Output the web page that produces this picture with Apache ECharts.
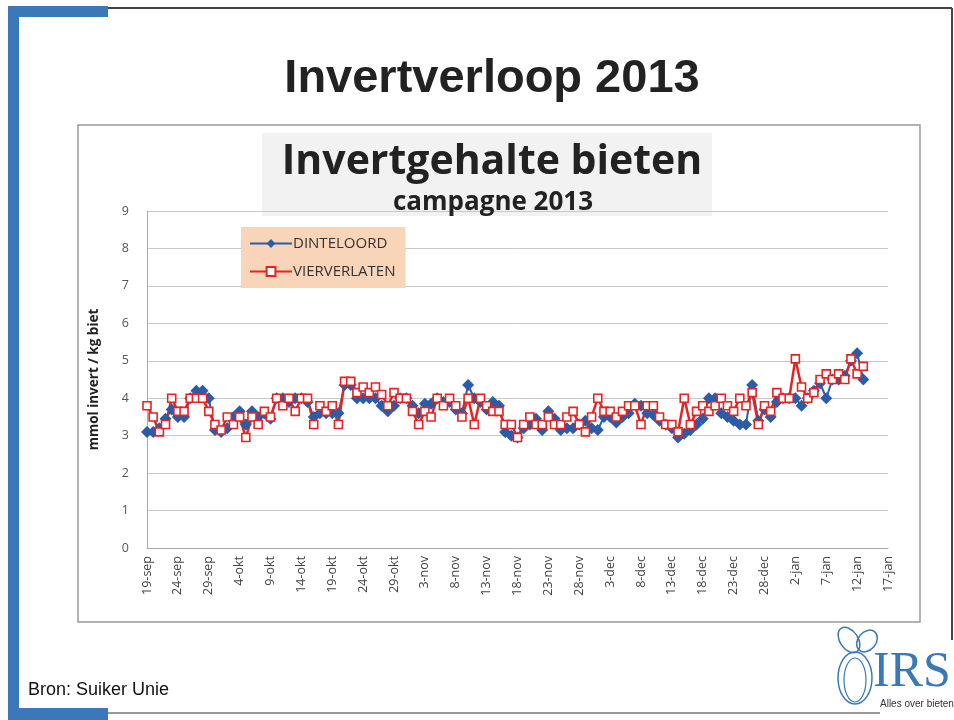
<!DOCTYPE html>
<html>
<head>
<meta charset="utf-8">
<script src="https://cdn.jsdelivr.net/npm/echarts@6/dist/echarts.min.js"></script>
<style>
  html, body { margin: 0; padding: 0; background: #fff; }
  #container { width: 954px; height: 720px; }
</style>
</head>
<body>
<div id="container"></div>
<script>
// daily values from 19-sep-2013
var startDate = [2013, 8, 19];
var dayCount = 121;
var monthNames = ['jan', 'feb', 'mrt', 'apr', 'mei', 'jun', 'jul', 'aug', 'sep', 'okt', 'nov', 'dec'];

var dinteloord = [
  3.1, 3.1, 3.2, 3.45, 3.7, 3.5, 3.5, 4.0, 4.2, 4.2,
  4.0, 3.15, 3.1, 3.2, 3.5, 3.65, 3.3, 3.65, 3.5, 3.6,
  3.45, 4.0, 4.0, 3.9, 4.0, 4.0, 3.9, 3.5, 3.6, 3.6,
  3.6, 3.6, 4.35, 4.35, 4.0, 4.0, 4.0, 4.0, 3.8, 3.65,
  3.8, 4.0, 4.0, 3.8, 3.6, 3.85, 3.85, 4.0, 3.9, 3.9,
  3.7, 3.6, 4.35, 4.0, 3.9, 3.7, 3.9, 3.8, 3.1, 3.0,
  2.95, 3.2, 3.3, 3.45, 3.15, 3.65, 3.45, 3.15, 3.2, 3.2,
  3.3, 3.4, 3.2, 3.15, 3.5, 3.5, 3.35, 3.5, 3.6, 3.85,
  3.8, 3.6, 3.55, 3.4, 3.3, 3.2, 2.95, 3.05, 3.15, 3.3,
  3.45, 4.0, 4.0, 3.6, 3.5, 3.4, 3.3, 3.3, 4.35, 3.4,
  3.7, 3.5, 3.9, 4.0, 4.0, 4.0, 3.8, 4.0, 4.2, 4.4,
  4.0, 4.5, 4.5, 4.6, 5.0, 5.2, 4.5
];

var vierverlaten = [
  3.8, 3.5, 3.1, 3.3, 4.0, 3.65, 3.65, 4.0, 4.0, 4.0,
  3.65, 3.3, 3.15, 3.5, 3.3, 3.5, 2.95, 3.5, 3.3, 3.65,
  3.5, 4.0, 3.8, 4.0, 3.65, 4.0, 4.0, 3.3, 3.8, 3.65,
  3.8, 3.3, 4.45, 4.45, 4.15, 4.3, 4.15, 4.3, 4.1, 3.8,
  4.15, 4.0, 4.0, 3.65, 3.3, 3.65, 3.5, 4.0, 3.8, 4.0,
  3.8, 3.5, 4.0, 3.3, 4.0, 3.8, 3.65, 3.65, 3.3, 3.3,
  2.95, 3.3, 3.5, 3.3, 3.3, 3.5, 3.3, 3.3, 3.5, 3.65,
  3.3, 3.1, 3.5, 4.0, 3.65, 3.65, 3.5, 3.65, 3.8, 3.8,
  3.3, 3.8, 3.8, 3.5, 3.3, 3.3, 3.1, 4.0, 3.3, 3.65,
  3.8, 3.65, 3.8, 4.0, 3.8, 3.65, 4.0, 3.8, 4.15, 3.3,
  3.8, 3.65, 4.15, 4.0, 4.0, 5.05, 4.3, 4.0, 4.15, 4.5,
  4.65, 4.5, 4.65, 4.5, 5.05, 4.65, 4.85
];

var dates = [];
for (var i = 0; i < dayCount; i++) {
  var d = new Date(Date.UTC(startDate[0], startDate[1], startDate[2] + i));
  dates.push(d.getUTCDate() + '-' + monthNames[d.getUTCMonth()]);
}

var blue = '#3a78b8';
var myChart = echarts.init(document.getElementById('container'));

option = {
  backgroundColor: '#fff',
  animation: false,
  title: [{
    text: 'Invertverloop 2013',
    left: 487, top: 51, textAlign: 'center',
    textStyle: { fontFamily: 'Liberation Sans', fontWeight: 'bold', fontSize: 47, color: '#222' }
  }, {
    text: 'Invertgehalte bieten',
    left: 487, top: 137, textAlign: 'center',
    textStyle: { fontFamily: 'Open Sans', fontWeight: 'bold', fontSize: 41, color: '#222' }
  }, {
    text: 'campagne 2013',
    left: 488, top: 185, textAlign: 'center',
    textStyle: { fontFamily: 'Open Sans', fontWeight: 'bold', fontSize: 26, color: '#222' }
  }],
  graphic: [
    // slide frame
    { type: 'rect', z: -10, shape: { x: 8, y: 6, width: 100, height: 11 }, style: { fill: blue } },
    { type: 'rect', z: -10, shape: { x: 8, y: 6, width: 11, height: 714 }, style: { fill: blue } },
    { type: 'rect', z: -10, shape: { x: 8, y: 708, width: 100, height: 12 }, style: { fill: blue } },
    { type: 'line', z: -10, shape: { x1: 108, y1: 8, x2: 952, y2: 8 }, style: { stroke: '#444', lineWidth: 2 } },
    { type: 'line', z: -10, shape: { x1: 952, y1: 8, x2: 952, y2: 640 }, style: { stroke: '#444', lineWidth: 2 } },
    { type: 'line', z: -10, shape: { x1: 108, y1: 713, x2: 880, y2: 713 }, style: { stroke: '#999', lineWidth: 2 } },
    // chart box
    { type: 'rect', z: -5, shape: { x: 78, y: 125, width: 842, height: 497 }, style: { fill: '#fff', stroke: '#9a9a9a', lineWidth: 1.5 } },
    { type: 'rect', z: -4, shape: { x: 262, y: 133, width: 450, height: 83 }, style: { fill: '#f2f2f2' } },
    // source
    { type: 'text', left: 28, top: 681, style: { text: 'Bron: Suiker Unie', font: '18px "Liberation Sans"', fill: '#111' } },
    // logo
    { type: 'ellipse', shape: { cx: 849, cy: 640, rx: 9, ry: 14 }, rotation: 0.6, originX: 849, originY: 640, style: { fill: 'none', stroke: blue, lineWidth: 1.5 } },
    { type: 'ellipse', shape: { cx: 867, cy: 641, rx: 9, ry: 12 }, rotation: -0.7, originX: 867, originY: 641, style: { fill: 'none', stroke: blue, lineWidth: 1.5 } },
    { type: 'ellipse', shape: { cx: 855, cy: 678, rx: 17, ry: 26 }, style: { fill: 'none', stroke: blue, lineWidth: 1.5 } },
    { type: 'ellipse', shape: { cx: 855, cy: 680, rx: 11, ry: 22 }, style: { fill: 'none', stroke: blue, lineWidth: 1.2 } },
    { type: 'text', left: 873, top: 648, style: { text: 'IRS', font: '50px "Liberation Serif"', fill: blue } },
    { type: 'text', left: 880, top: 699, style: { text: 'Alles over bieten', font: '10px "Liberation Sans Narrow", "Liberation Sans"', fill: '#333' } }
  ],
  legend: {
    left: 241, top: 227,
    orient: 'vertical',
    backgroundColor: '#f8d5b8',
    padding: [9, 10, 9, 8],
    itemGap: 13,
    itemWidth: 42, itemHeight: 11,
    textStyle: { fontFamily: 'Open Sans', fontSize: 15, color: '#333', padding: [0, 0, 0, -4] },
    data: ['DINTELOORD', 'VIERVERLATEN']
  },
  grid: { left: 147, right: 66, top: 211, bottom: 172 },
  xAxis: {
    type: 'category',
    data: dates,
    boundaryGap: false,
    axisLine: { lineStyle: { color: '#aaa' } },
    axisTick: { show: false },
    axisLabel: {
      interval: 4, rotate: 90, margin: 8,
      fontFamily: 'Open Sans', fontSize: 12.5, color: '#444'
    },
    splitLine: { show: false }
  },
  yAxis: {
    type: 'value',
    min: 0, max: 9, interval: 1,
    name: 'mmol invert / kg biet',
    nameLocation: 'middle', nameGap: 46, nameRotate: 90,
    nameTextStyle: { fontFamily: 'Open Sans', fontWeight: 'bold', fontSize: 13.5, color: '#222' },
    axisLine: { show: true, lineStyle: { color: '#aaa' } },
    axisTick: { show: false },
    axisLabel: { margin: 18, fontFamily: 'Open Sans', fontSize: 12.5, color: '#555' },
    splitLine: { lineStyle: { color: '#c8c8c8' } }
  },
  series: [{
    name: 'DINTELOORD',
    type: 'line',
    data: dinteloord,
    symbol: 'diamond',
    symbolSize: 12,
    showAllSymbol: true,
    itemStyle: { color: '#2a5ca8' },
    lineStyle: { color: '#2a5ca8', width: 2 }
  }, {
    name: 'VIERVERLATEN',
    type: 'line',
    data: vierverlaten,
    symbol: 'rect',
    symbolSize: 8,
    showAllSymbol: true,
    itemStyle: { color: '#fff', borderColor: '#e8231f', borderWidth: 1.6 },
    lineStyle: { color: '#e8231f', width: 2.5 }
  }]
};
myChart.setOption(option);
</script>
</body>
</html>
